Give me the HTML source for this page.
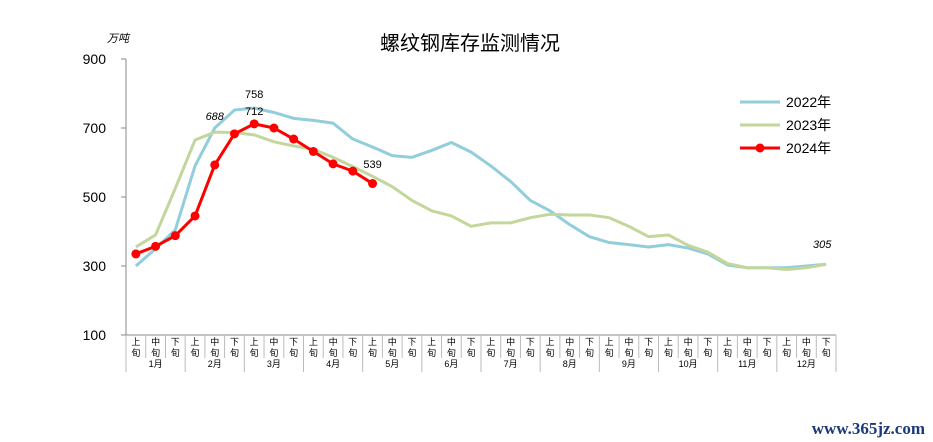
<!DOCTYPE html>
<html><head><meta charset="utf-8">
<style>
body{margin:0;background:#fff;}
svg{display:block;font-family:"Liberation Sans","Noto Sans CJK SC",sans-serif;}
</style></head>
<body>
<svg id="c" width="933" height="442" viewBox="0 0 933 442">
<text x="470" y="50" font-size="20" text-anchor="middle" fill="#000" font-family="'Noto Sans CJK SC',sans-serif">螺纹钢库存监测情况</text>
<text x="107" y="42" font-size="11" font-style="italic" fill="#000">万吨</text>
<g id="axes"></g>
<g id="series"></g>
<g id="legend"></g>
<text x="925" y="434" font-size="17" font-weight="bold" text-anchor="end" fill="#1a3a78" font-family="'Liberation Serif',serif">www.365jz.com</text>
</svg>
<script>
const months = ["1月","2月","3月","4月","5月","6月","7月","8月","9月","10月","11月","12月"];
const periods = ["上","中","下"];
const yTicks = [100,300,500,700,900];
const s2022 = [300,350,405,590,700,752,758,745,728,722,714,668,645,620,615,635,658,630,590,545,490,460,420,385,368,362,355,362,352,335,303,295,295,295,300,305];
const s2023 = [355,390,525,665,688,687,680,660,648,638,615,588,560,530,490,460,445,415,425,425,440,450,448,448,440,415,385,390,360,340,307,295,295,290,295,305];
const s2024 = [335,357,388,445,593,683,712,700,668,632,596,575,539];
const NS="http://www.w3.org/2000/svg";
const x0=126,x1=836,n=36,cw=(x1-x0)/n;
const X=i=>x0+cw*(i+0.5);
const Y=v=>335-(v-100)*(276/800);
function el(t,a,p){const e=document.createElementNS(NS,t);for(const k in a)e.setAttribute(k,a[k]);(p||document.getElementById('axes')).appendChild(e);return e;}
const ax=document.getElementById('axes');
let e=el('line',{x1:x0,y1:Y(900),x2:x0,y2:335,stroke:'#888','stroke-width':1});


yTicks.forEach(v=>{
  el('line',{x1:x0-5,y1:Y(v),x2:x0,y2:Y(v),stroke:'#888'});
  const t=el('text',{x:x0-20,y:Y(v)+5,'font-size':14,'text-anchor':'end',fill:'#000'});
  t.textContent=v;
  
  
});
e=el('line',{x1:x0,y1:335,x2:x1,y2:335,stroke:'#888'});


for(let i=0;i<=n;i++){
  const xx=x0+cw*i;
  el('line',{x1:xx,y1:335,x2:xx,y2:(i%3==0)?372:358,stroke:'#bbb'});
  if(i<n){
    const t=el('text',{x:X(i),y:345,'font-size':9,'text-anchor':'middle',fill:'#000'});
    t.textContent=periods[i%3];
    
    
    const t2=el('text',{x:X(i),y:356,'font-size':9,'text-anchor':'middle',fill:'#000'});
    t2.textContent='旬';
    
    
  }
}
months.forEach((m,k)=>{
  const t=el('text',{x:X(k*3+1),y:367,'font-size':9,'text-anchor':'middle',fill:'#000'});
  t.textContent=m;
  
  
});
const sg=document.getElementById('series');
function line(d,col,w,name){
  const p=el('polyline',{points:d.map((v,i)=>X(i)+','+Y(v)).join(' '),fill:'none',stroke:col,'stroke-width':w,'stroke-linejoin':'round'},sg);
  
  
}
line(s2022,'#92cddc',3,'series-2022');
line(s2023,'#c3d69b',3,'series-2023');
line(s2024,'#ff0000',3,'series-2024');
s2024.forEach((v,i)=>{
  const c=el('circle',{cx:X(i),cy:Y(v),r:4.5,fill:'#ff0000'},sg);
  
  
});
function lab(txt,x,y,it){
  const t=el('text',{x:x,y:y,'font-size':11,'text-anchor':'middle',fill:'#000','font-style':it?'italic':'normal'},sg);
  t.textContent=txt;
  
  
}
lab(s2023[4],X(4),120,true);
lab(s2022[6],X(6),98,false);
lab(s2024[6],X(6),115,false);
lab(s2024[12],X(12),168,false);
lab(s2022[35],X(35)-4,248,true);
const lg=document.getElementById('legend');
[['2022年','#92cddc',false],['2023年','#c3d69b',false],['2024年','#ff0000',true]].forEach((L,k)=>{
  const y=102+k*23;
  el('line',{x1:740,y1:y,x2:780,y2:y,stroke:L[1],'stroke-width':3},lg);
  if(L[2])el('circle',{cx:760,cy:y,r:4.5,fill:L[1]},lg);
  const t=el('text',{x:786,y:y+5,'font-size':14,fill:'#000'},lg);
  t.textContent=L[0];
  
  
});
</script>
</body></html>
